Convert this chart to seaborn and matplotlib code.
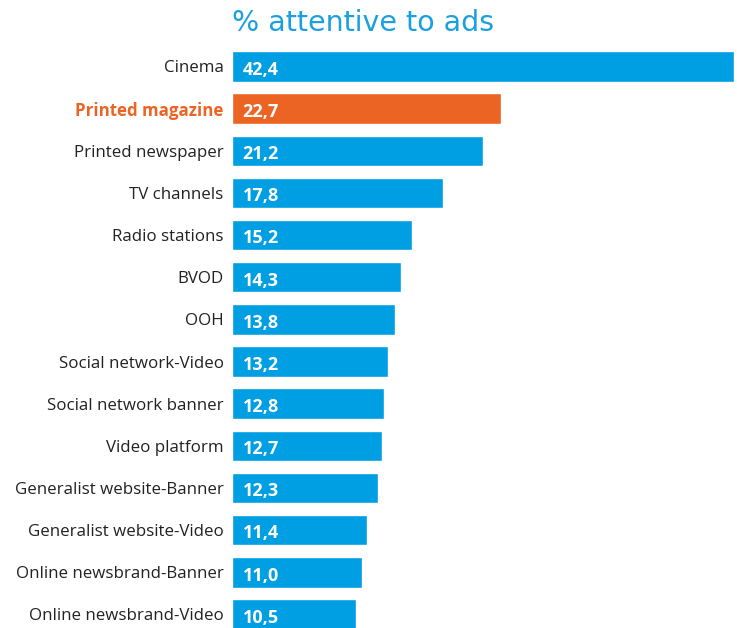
import matplotlib
matplotlib.use("Agg")
import matplotlib.pyplot as plt
import seaborn as sns
import pandas as pd

categories = ["Cinema", "Printed magazine", "Printed newspaper", "TV channels",
              "Radio stations", "BVOD", "OOH", "Social network-Video",
              "Social network banner", "Video platform", "Generalist website-Banner",
              "Generalist website-Video", "Online newsbrand-Banner", "Online newsbrand-Video"]
values = [42.4, 22.7, 21.2, 17.8, 15.2, 14.3, 13.8, 13.2, 12.8, 12.7, 12.3, 11.4, 11.0, 10.5]
highlight = "Printed magazine"
title = "% attentive to ads"

BLUE = "#009fe3"
ORANGE = "#ec6423"

sns.set_theme(style="white")
plt.rcParams['font.family'] = ['Open Sans', 'DejaVu Sans']

df = pd.DataFrame({"cat": categories, "val": values})
palette = {c: (ORANGE if c == highlight else BLUE) for c in categories}

fig = plt.figure(figsize=(7.37, 6.28), dpi=100)
W, H = 737, 628
ax = fig.add_axes([232 / W, 0, (W - 232) / W, (628 - 45) / H])

sns.barplot(data=df, x="val", y="cat", hue="cat", palette=palette, order=categories,
            width=0.724, legend=False, ax=ax, saturation=1)

ax.set_xlim(0, 42.4 * 505 / 502)
ax.set_ylim(13 + (628 - 614.4) / 42.15, -(66.5 - 45) / 42.15)
for s in ax.spines.values():
    s.set_visible(False)
ax.set_xticks([])
ax.set_xlabel("")
ax.set_ylabel("")
ax.tick_params(axis="y", length=0, pad=6)
ax.set_yticks(range(len(categories)))
ax.set_yticklabels(categories, fontsize=12.2, color="#222222")
for lbl in ax.get_yticklabels():
    if lbl.get_text() == highlight:
        lbl.set_color(ORANGE)
        lbl.set_fontweight("bold")

for i, v in enumerate(values):
    ax.text(0.9, i + 0.08, f"{v:.1f}".replace(".", ","), color="white",
            fontsize=13, fontweight="bold", va="center", ha="left")

fig.text(232 / W, 1 - 23 / H, title, color="#1a9fe0", fontsize=20.5,
         ha="left", va="center", family=["DejaVu Sans"])

fig.savefig("out.png", dpi=100)
